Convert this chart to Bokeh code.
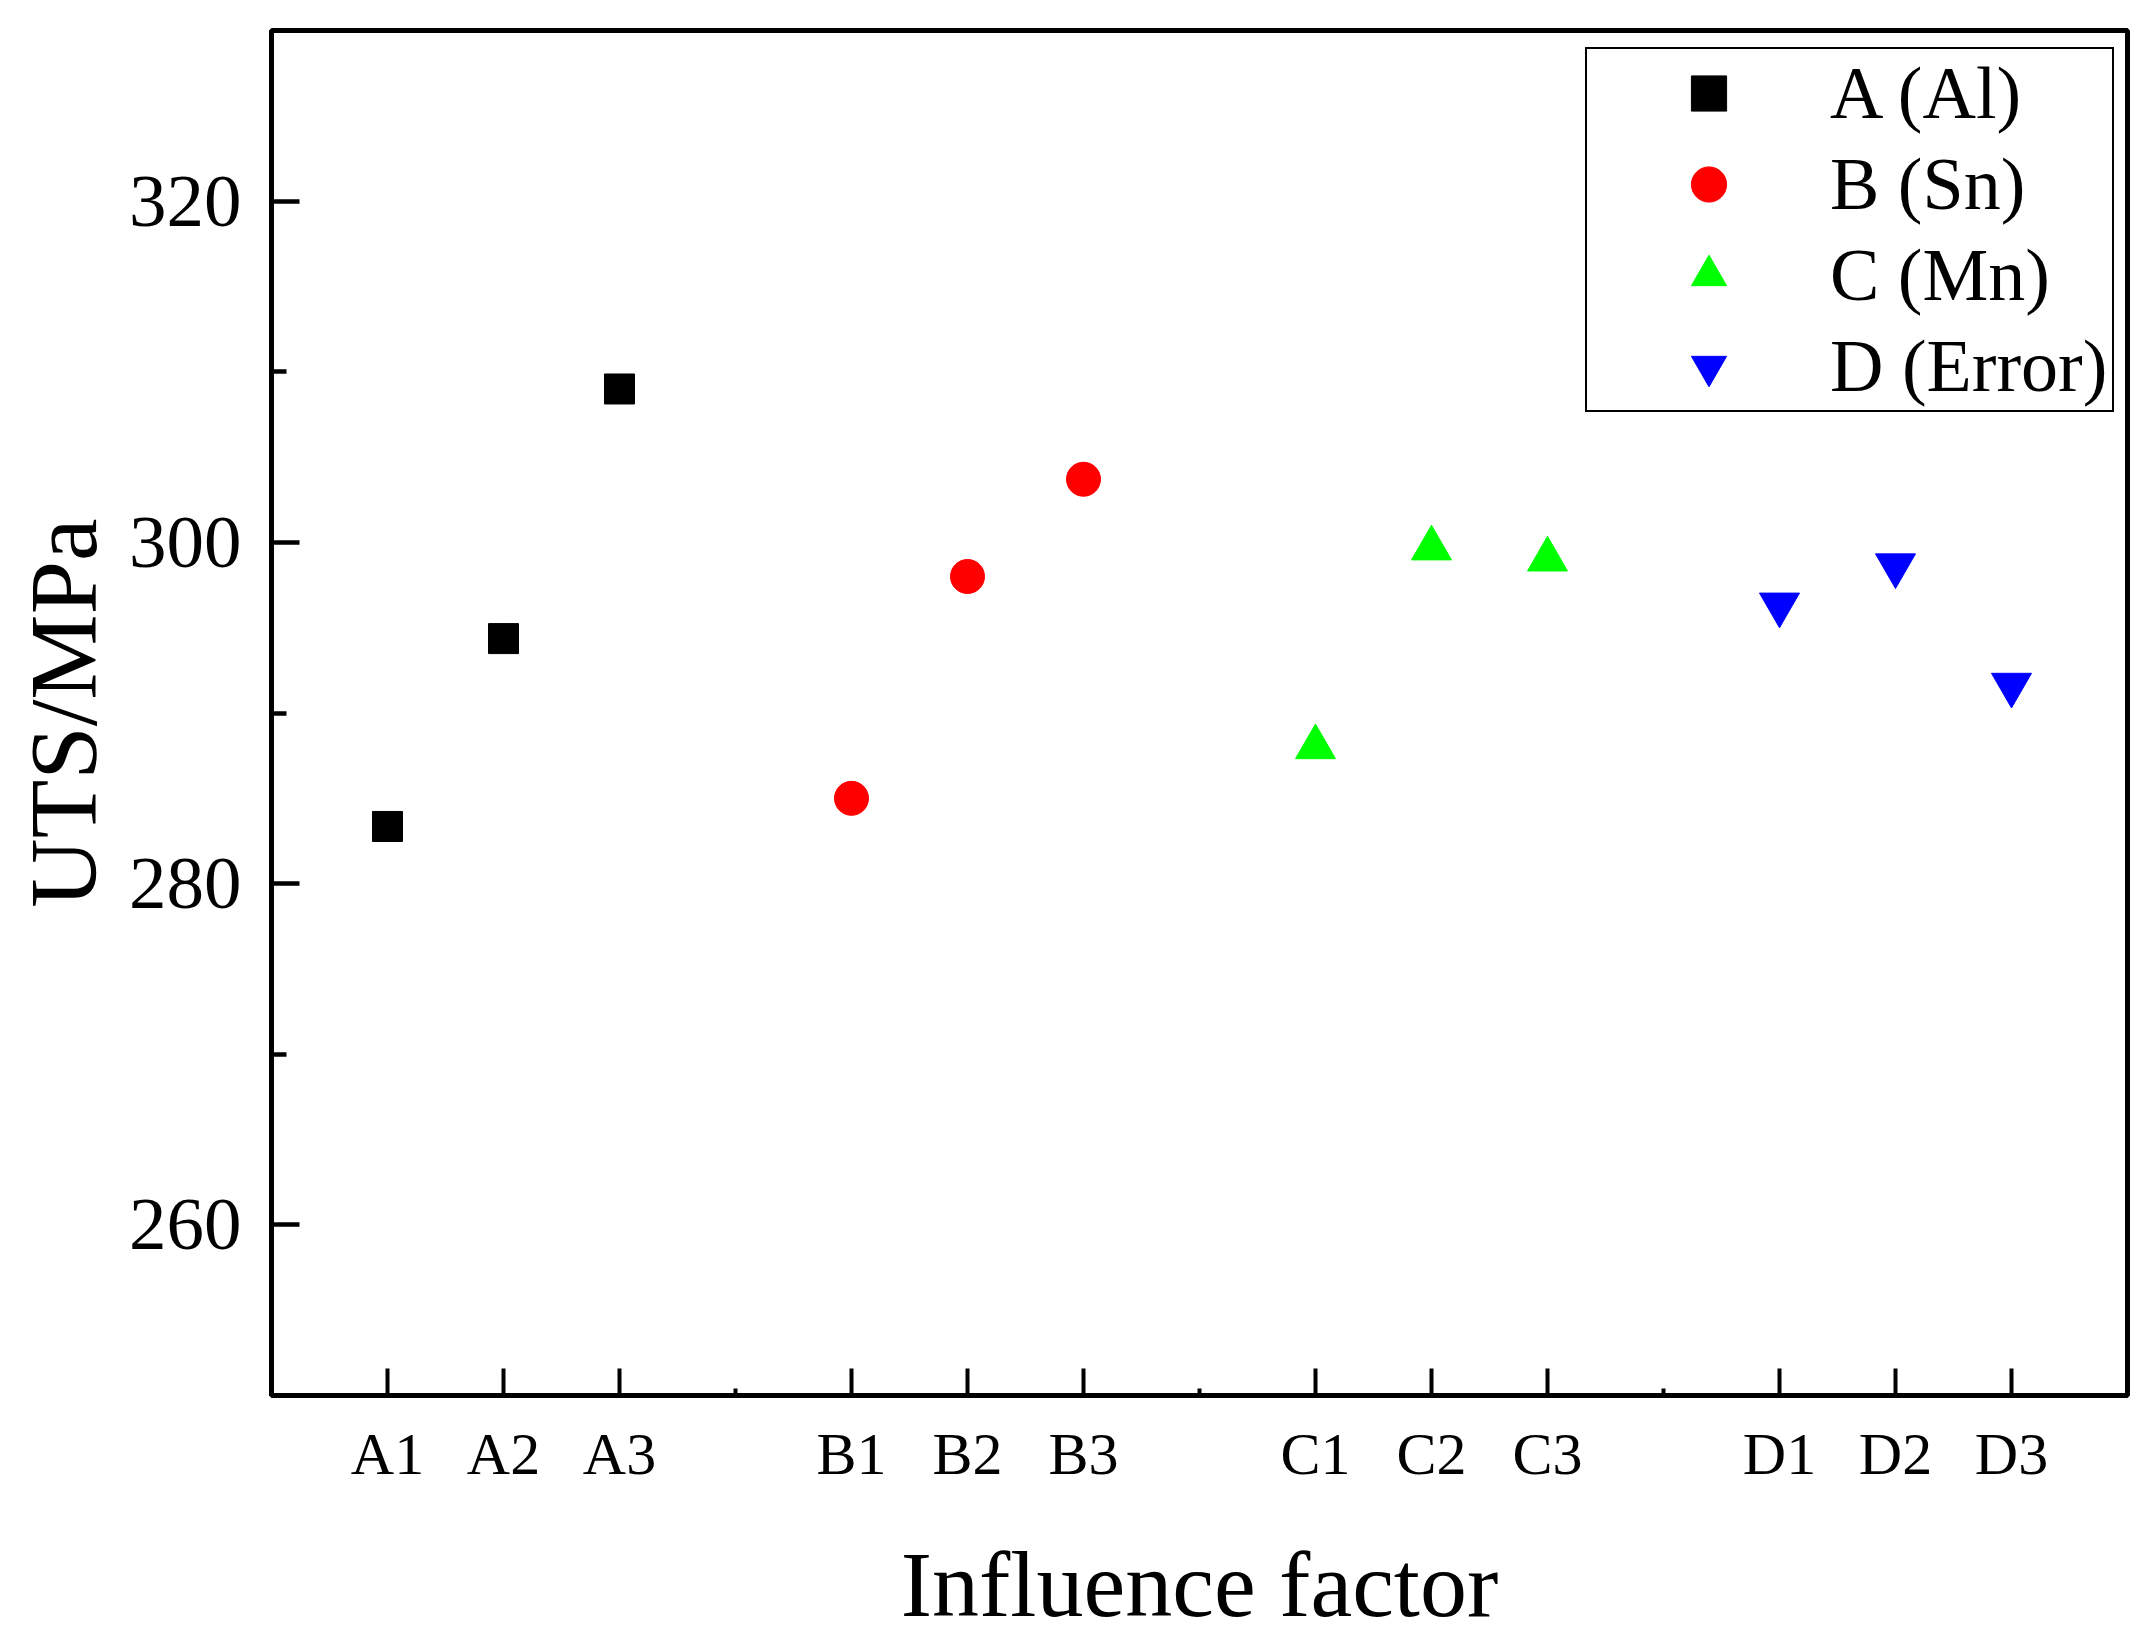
from bokeh.plotting import figure
from bokeh.models import Range1d, FixedTicker
from bokeh.embed import file_html
from bokeh.resources import INLINE

# ---- data ----
tick_positions = [1, 2, 3, 5, 6, 7, 9, 10, 11, 13, 14, 15]
tick_labels = ["A1", "A2", "A3", "B1", "B2", "B3", "C1", "C2", "C3", "D1", "D2", "D3"]
gap_positions = [4, 8, 12]

x_A = [1, 2, 3]
x_B = [5, 6, 7]
x_C = [9, 10, 11]
x_D = [13, 14, 15]

uts_A = [283.35, 294.36, 308.99]
uts_B = [285.0, 298.0, 303.7]
uts_C = [288.0, 299.65, 299.0]
uts_D = [296.35, 298.65, 291.65]

y_major = [260, 280, 300, 320]
y_minor = [270, 290, 310]

FONT = "Liberation Serif"

p = figure(width=2150, height=1640, output_backend="svg", toolbar_location=None,
           x_range=Range1d(0, 16), y_range=Range1d(250, 330),
           min_border_left=271, min_border_right=23, min_border_top=30, min_border_bottom=245)

p.grid.visible = False
p.background_fill_color = "white"
p.border_fill_color = "white"
p.outline_line_color = "black"
p.outline_line_width = 5

p.scatter(x_A, uts_A, marker="square", size=30, fill_color="#000000", line_color="#000000", legend_label="A (Al)")
p.scatter(x_B, uts_B, marker="circle", size=34, fill_color="#FF0000", line_color="#FF0000", legend_label="B (Sn)")
p.scatter(x_C, uts_C, marker="triangle", size=40, fill_color="#00FF00", line_color="#00FF00", legend_label="C (Mn)")
p.scatter(x_D, uts_D, marker="inverted_triangle", size=40, fill_color="#0000FF", line_color="#0000FF", legend_label="D (Error)")

# x axis
xa = p.xaxis[0]
xa.ticker = FixedTicker(ticks=tick_positions, minor_ticks=gap_positions)
xa.major_label_overrides = {t: l for t, l in zip(tick_positions, tick_labels)}
xa.axis_label = "Influence factor"
xa.axis_label_text_font = FONT
xa.axis_label_text_font_size = "94px"
xa.axis_label_text_font_style = "normal"
xa.axis_label_standoff = 42
xa.major_label_text_font = FONT
xa.major_label_text_font_size = "60px"
xa.major_label_standoff = 25
xa.major_tick_in = 27
xa.major_tick_out = 0
xa.minor_tick_in = 7
xa.minor_tick_out = 0
xa.major_tick_line_width = 4
xa.minor_tick_line_width = 4
xa.axis_line_width = 5
xa.major_tick_line_color = "black"
xa.minor_tick_line_color = "black"
xa.axis_line_color = "black"
xa.major_label_text_color = "black"
xa.axis_label_text_color = "black"

# y axis
ya = p.yaxis[0]
ya.ticker = FixedTicker(ticks=y_major, minor_ticks=y_minor)
ya.axis_label = "UTS/MPa"
ya.axis_label_text_font = FONT
ya.axis_label_text_font_size = "96px"
ya.axis_label_text_font_style = "normal"
ya.axis_label_standoff = 9
ya.major_label_text_font = FONT
ya.major_label_text_font_size = "75px"
ya.major_label_standoff = 30
ya.major_tick_in = 28
ya.major_tick_out = 0
ya.minor_tick_in = 15
ya.minor_tick_out = 0
ya.major_tick_line_width = 4.5
ya.minor_tick_line_width = 4.5
ya.axis_line_width = 5
ya.major_tick_line_color = "black"
ya.minor_tick_line_color = "black"
ya.axis_line_color = "black"
ya.major_label_text_color = "black"
ya.axis_label_text_color = "black"

# legend
lg = p.legend[0]
lg.location = (1314, 983)
lg.margin = 0
lg.padding = 0
lg.spacing = 3
lg.glyph_width = 243
lg.glyph_height = 88
lg.label_height = 88
lg.label_width = 282
lg.label_standoff = 0
lg.label_text_font = FONT
lg.label_text_font_size = "74px"
lg.label_text_color = "black"
lg.border_line_color = "black"
lg.border_line_width = 2.5
lg.border_line_alpha = 1.0
lg.background_fill_color = "white"
lg.background_fill_alpha = 1.0

open("out.html", "w").write(file_html(p, INLINE))
